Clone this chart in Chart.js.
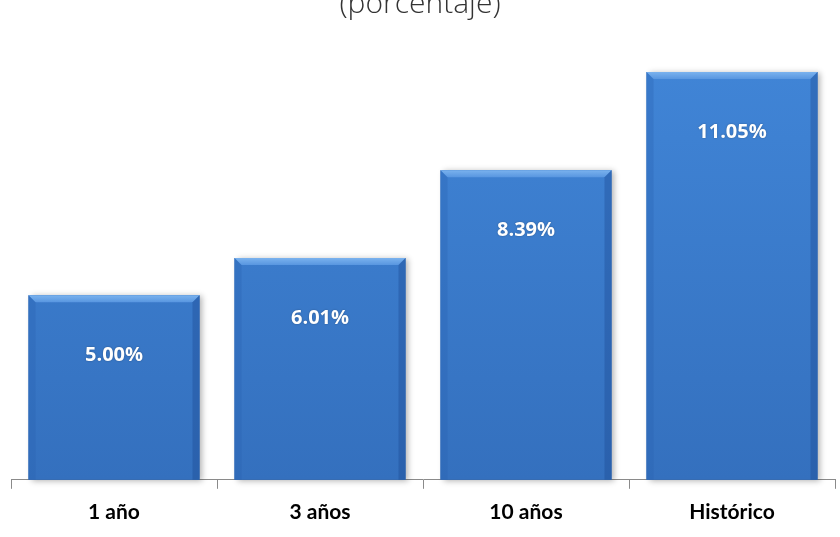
<!DOCTYPE html>
<html>
<head>
<meta charset="utf-8">
<script src="https://cdn.jsdelivr.net/npm/chart.js@4"></script>
<style>
  html, body { margin: 0; padding: 0; background: #fff; }
  #wrap { width: 840px; height: 537px; }
</style>
</head>
<body>
<div id="wrap"><canvas id="myChart" width="840" height="537"></canvas></div>
<script>
// datos del grafico
const categorias = ['1 año', '3 años', '10 años', 'Histórico'];
const rendimientos = [5.00, 6.01, 8.39, 11.05];
const etiquetas = ['5.00%', '6.01%', '8.39%', '11.05%'];
const titulo = '(porcentaje)';

// titulo cortado arriba
const tituloPlugin = {
    id: 'tituloPlugin',
    afterDraw(chart) {
        const ctx = chart.ctx;
        ctx.save();
        ctx.font = '300 30px "Open Sans"';
        ctx.fillStyle = '#333';
        ctx.textAlign = 'center';
        ctx.textBaseline = 'alphabetic';
        ctx.fillText(titulo, 420, 13);
        ctx.restore();
    }
};

// efecto biselado de las barras
const biselPlugin = {
    id: 'biselPlugin',
    beforeDatasetsDraw(chart) {
        const ctx = chart.ctx;
        chart.getDatasetMeta(0).data.forEach(bar => {
            const x0 = bar.x - bar.width / 2, x1 = bar.x + bar.width / 2;
            ctx.save();
            ctx.shadowColor = 'rgba(0,0,0,0.3)';
            ctx.shadowBlur = 6;
            ctx.shadowOffsetX = 3;
            ctx.shadowOffsetY = 1;
            ctx.fillStyle = '#2f66b0';
            ctx.fillRect(x0, bar.y, x1 - x0, bar.base - bar.y);
            ctx.restore();
        });
    },
    afterDatasetsDraw(chart) {
        const ctx = chart.ctx;
        const b = 7;
        chart.getDatasetMeta(0).data.forEach((bar, i) => {
            const x0 = bar.x - bar.width / 2, x1 = bar.x + bar.width / 2;
            const y0 = bar.y, y1 = bar.base;
            ctx.save();
            // arriba
            ctx.beginPath();
            ctx.moveTo(x0, y0); ctx.lineTo(x1, y0); ctx.lineTo(x1 - b, y0 + b); ctx.lineTo(x0 + b, y0 + b);
            ctx.closePath();
            const g = ctx.createLinearGradient(0, y0, 0, y0 + b);
            g.addColorStop(0, '#7ab2ee');
            g.addColorStop(1, '#5896e0');
            ctx.fillStyle = g;
            ctx.fill();
            // izquierda
            ctx.beginPath();
            ctx.moveTo(x0, y0); ctx.lineTo(x0 + b, y0 + b); ctx.lineTo(x0 + b, y1); ctx.lineTo(x0, y1);
            ctx.closePath();
            ctx.fillStyle = 'rgba(40,95,175,0.3)';
            ctx.fill();
            // derecha
            ctx.beginPath();
            ctx.moveTo(x1, y0); ctx.lineTo(x1 - b, y0 + b); ctx.lineTo(x1 - b, y1); ctx.lineTo(x1, y1);
            ctx.closePath();
            ctx.fillStyle = 'rgba(25,70,140,0.35)';
            ctx.fill();
            // texto
            ctx.font = 'bold 20px "Open Sans"';
            ctx.fillStyle = '#ffffff';
            ctx.textAlign = 'center';
            ctx.textBaseline = 'middle';
            ctx.shadowColor = 'rgba(0,0,0,0.3)';
            ctx.shadowBlur = 2;
            ctx.fillText(etiquetas[i], bar.x, y0 + 60);
            ctx.restore();
        });
    }
};

const ctx = document.getElementById('myChart').getContext('2d');
const myChart = new Chart(ctx, {
    type: 'bar',
    data: {
        labels: categorias,
        datasets: [{
            data: rendimientos,
            backgroundColor: (c) => {
                const area = c.chart.chartArea;
                if (!area) return '#3d7ecf';
                const g = c.chart.ctx.createLinearGradient(0, area.top, 0, area.bottom);
                g.addColorStop(0, '#4186d8');
                g.addColorStop(1, '#3470be');
                return g;
            },
            borderWidth: 0,
            categoryPercentage: 0.83,
            barPercentage: 1.0
        }]
    },
    options: {
        responsive: false,
        animation: false,
        layout: { padding: { left: 11, right: 5, top: 37, bottom: 1 } },
        plugins: {
            legend: { display: false },
            tooltip: { enabled: false }
        },
        scales: {
            x: {
                grid: {
                    offset: true,
                    drawOnChartArea: false,
                    drawTicks: true,
                    tickLength: 9,
                    color: '#8a8a8a',
                    lineWidth: 1
                },
                border: { display: true, color: '#8a8a8a', width: 1 },
                ticks: {
                    color: '#000',
                    padding: 11,
                    font: { family: 'Lato', size: 21, weight: 'bold' }
                }
            },
            y: {
                display: false,
                min: 0,
                max: 12
            }
        }
    },
    plugins: [tituloPlugin, biselPlugin]
});
</script>
</body>
</html>
